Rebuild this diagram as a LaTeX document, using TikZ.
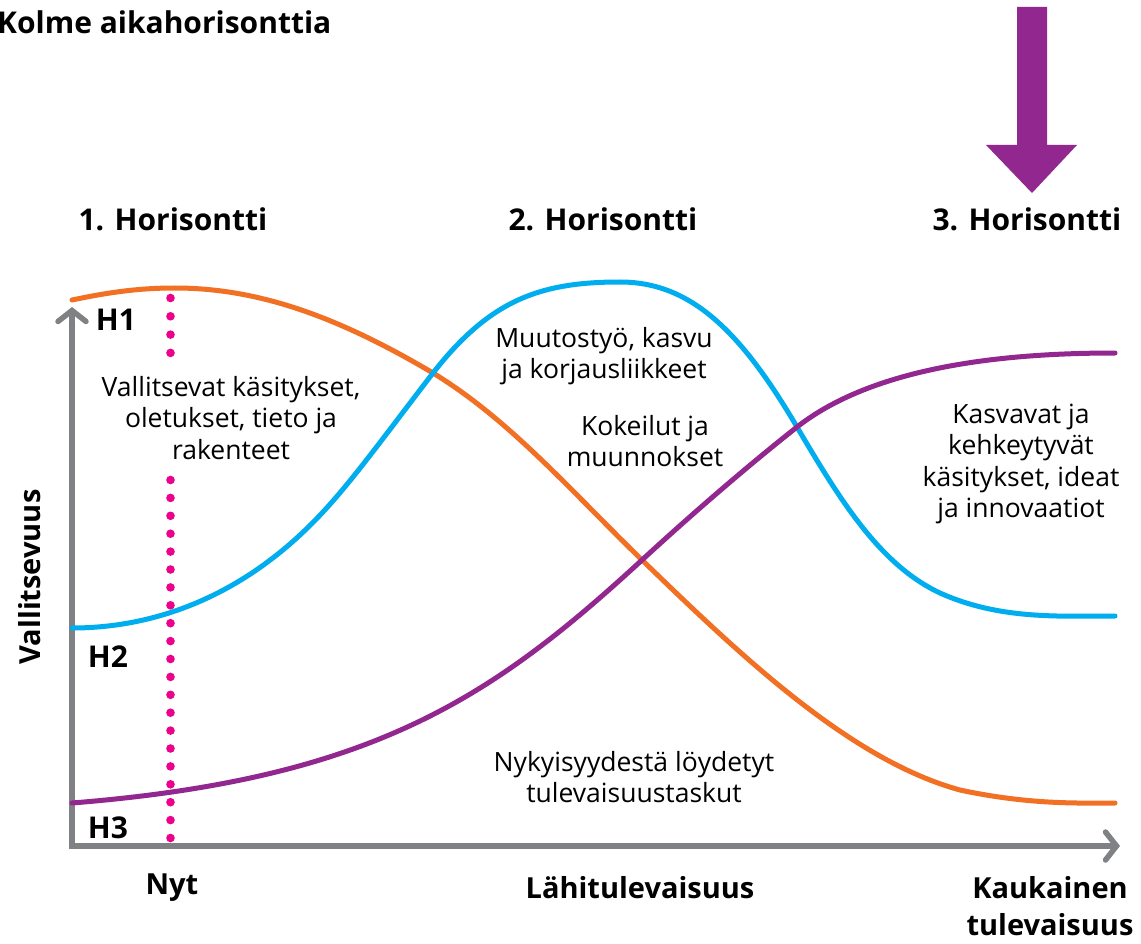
\documentclass[tikz,border=0pt]{standalone}
\usepackage{fontspec}
\setmainfont{Open Sans}
\usetikzlibrary{arrows.meta}
\definecolor{cOrange}{RGB}{242,112,36}
\definecolor{cBlue}{RGB}{0,174,239}
\definecolor{cPurple}{RGB}{146,39,143}
\definecolor{cPink}{RGB}{236,0,140}
\definecolor{cGray}{RGB}{128,129,133}
\tikzset{
  body/.style={font=\fontsize{26.5}{31.5}\selectfont, align=center, inner sep=0pt},
  heading/.style={font=\bfseries\fontsize{30}{34}\selectfont, inner sep=0pt},
  hlabel/.style={font=\bfseries\fontsize{30}{34}\selectfont, inner sep=0pt},
  axlabel/.style={font=\bfseries\fontsize{29}{37}\selectfont, align=center, inner sep=0pt},
  curve/.style={line width=5pt, line cap=round},
  axisline/.style={draw=cGray, line width=5.5pt, line join=miter,
     {Straight Barb[length=11pt,width=28pt,line cap=round]}-{Straight Barb[length=11pt,width=28pt,line cap=round]}},
  dot/.style={fill=cPink}
}
\begin{document}
\begin{tikzpicture}[x=1pt,y=-1pt]
\useasboundingbox (0,0) rectangle (1141,944);
\fill[white] (0,0) rectangle (1141,944);

% title
\node[heading, anchor=west] (title) at (-3,22) {Kolme aikahorisonttia};

% big arrow
\fill[cPurple] (1017,7) -- (1047,7) -- (1047,145) -- (1077,145) -- (1032,193) -- (986,145) -- (1017,145) -- cycle;

% headings
\node[heading] (hz1) at (173,219) {1. Horisontti};
\node[heading] (hz2) at (603,219) {2. Horisontti};
\node[heading] (hz3) at (1027,219) {3. Horisontti};

% axes
\coordinate (ytop) at (72,307);
\coordinate (origin) at (72,846);
\coordinate (xend) at (1120,846);
\draw[axisline] (ytop) -- (origin) -- (xend);

% dotted "now" line
\foreach \i in {0,...,3} \fill[dot] (170.5,298+18.3*\i) circle (4.3);
\foreach \i in {0,...,20} \fill[dot] (170.5,838-17.9*\i) circle (4.3);

% curves
\draw[curve, cOrange] (72,300) .. controls (110,292) and (140,288) .. (175,288)
  .. controls (260,288) and (340,318) .. (433,373)
  .. controls (510,420) and (570,490) .. (642,560)
  .. controls (740,655) and (850,760) .. (960,790)
  .. controls (1030,805) and (1080,803) .. (1115,803);
\draw[curve, cBlue] (72,628) .. controls (150,628) and (230,600) .. (300,535)
  .. controls (340,498) and (370,455) .. (433,373)
  .. controls (490,300) and (540,282) .. (620,282)
  .. controls (690,282) and (740,330) .. (797,427)
  .. controls (840,500) and (880,565) .. (940,593)
  .. controls (1000,620) and (1060,616) .. (1115,616);
\draw[curve, cPurple] (72,803) .. controls (372,779) and (492,698) .. (642,560)
  .. controls (692,514) and (747,466.5) .. (797,427)
  .. controls (870,370) and (990,353) .. (1115,353);

% curve labels
\node[hlabel] (lH1) at (116,320) {H1};
\node[hlabel] (lH2) at (108,657) {H2};
\node[hlabel] (lH3) at (108,828) {H3};

% texts
\node[body] (t1) at (231,418) {Vallitsevat käsitykset,\\oletukset, tieto ja\\rakenteet};
\node[body] (t2) at (604,356) {Muutostyö, kasvu\\ja korjausliikkeet};
\node[body] (t3) at (645,441) {Kokeilut ja\\muunnokset};
\node[body] (t4) at (1021,464) {Kasvavat ja\\kehkeytyvät\\käsitykset, ideat\\ja innovaatiot};
\node[body] (t5) at (634,777) {Nykyisyydestä löydetyt\\tulevaisuustaskut};

% axis labels
\node[axlabel, rotate=90] (yl) at (30,577) {Vallitsevuus};
\node[axlabel] (xl1) at (172,888) {Nyt};
\node[axlabel] (xl2) at (640,888) {Lähitulevaisuus};
\node[axlabel] (xl3) at (1050,906) {Kaukainen\\tulevaisuus};
\end{tikzpicture}
\end{document}
